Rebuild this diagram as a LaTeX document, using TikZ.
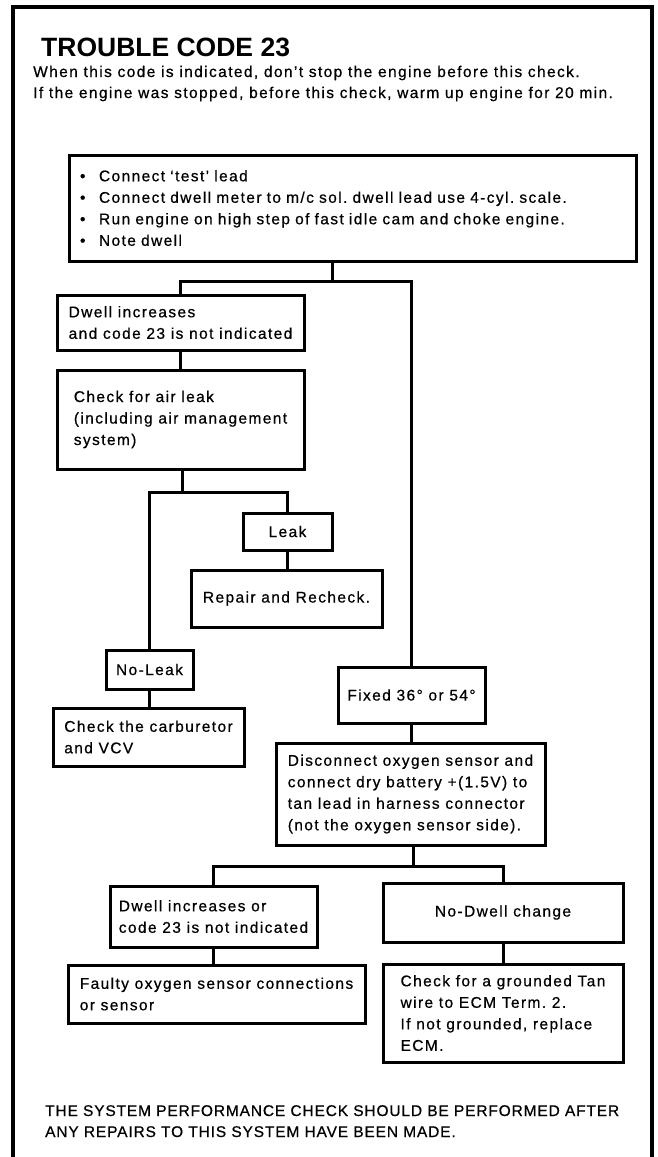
\documentclass[tikz,border=0pt]{standalone}
\usepackage{fontspec}
\setmainfont{Liberation Sans}[LetterSpace=9, FakeBold=0.6]
\newfontfamily\capsfont{Liberation Sans}[LetterSpace=5.5, FakeBold=0.6]
\newfontfamily\headfont{Liberation Sans Bold}
\frenchspacing

\begin{document}
\begin{tikzpicture}[x=1pt, y=-1pt,
        box/.style={draw, line width=3pt, inner sep=0pt, align=left, font=\fontsize{15.5}{21.5}\selectfont},
        cbox/.style={box, align=center},
        link/.style={line width=3pt},
        txt/.style={anchor=base west, inner sep=0pt, font=\fontsize{15.5}{21.5}\selectfont}]
        \useasboundingbox (0,0) rectangle (657,1157);

        % Frame
        \draw[line width=3.5pt] (13,1157) -- (13,7) -- (652,7) -- (652,1157);

        % Heading
        \node[anchor=base west, inner sep=0pt, font=\fontsize{26.5}{30}\headfont] (title) at (41,56) {TROUBLE CODE 23};
        \node[txt] (introa) at (33,77) {When this code is indicated, don’t stop the engine before this check.};
        \node[txt] (introb) at (33,98) {If the engine was stopped, before this check, warm up engine for 20 min.};

        % Boxes
        \node[box, minimum width=567, minimum height=106, text width=545] (checks) at (352.5,208) {\makebox[19pt][l]{\textbullet}Connect ‘test’ lead\\
            \makebox[19pt][l]{\textbullet}Connect dwell meter to m/c sol. dwell lead use 4-cyl. scale.\\
            \makebox[19pt][l]{\textbullet}Run engine on high step of fast idle cam and choke engine.\\
            \makebox[19pt][l]{\textbullet}Note dwell};
        \node[box, minimum width=247, minimum height=55] (dwell) at (180.5,322.5) {Dwell increases\\ and code 23 is not indicated};
        \node[box, minimum width=247, minimum height=99] (airleak) at (180.5,419.5) {Check for air leak\\ (including air management\\ system)};
        \node[cbox, minimum width=89, minimum height=37] (leak) at (287.5,531.5) {Leak};
        \node[cbox, minimum width=191, minimum height=57] (repair) at (286.5,598.5) {Repair and Recheck.};
        \node[cbox, minimum width=87, minimum height=39] (noleak) at (149.5,669.5) {No-Leak};
        \node[box, minimum width=191, minimum height=58] (carb) at (148.5,737) {Check the carburetor\\ and VCV};
        \node[cbox, minimum width=147, minimum height=56] (fixed) at (411.5,695) {Fixed 36° or 54°};
        \node[box, minimum width=269, minimum height=102] (battery) at (410.5,794) {Disconnect oxygen sensor and\\ connect dry battery +(1.5V) to\\ tan lead in harness connector\\ (not the oxygen sensor side).};
        \node[box, minimum width=207, minimum height=61] (dwellor) at (213.5,916.5) {Dwell increases or\\ code 23 is not indicated};
        \node[box, minimum width=297, minimum height=58] (faulty) at (216.5,994) {Faulty oxygen sensor connections\\ or sensor};
        \node[cbox, minimum width=240, minimum height=59] (nodwell) at (503,912.5) {No-Dwell change};
        \node[box, minimum width=240, minimum height=98] (ground) at (503,1013) {Check for a grounded Tan\\ wire to ECM Term. 2.\\ If not grounded, replace\\ ECM.};

        % Footer
        \node[txt, font=\fontsize{15.5}{21.5}\capsfont] (notea) at (45,1116) {THE SYSTEM PERFORMANCE CHECK SHOULD BE PERFORMED AFTER};
        \node[txt, font=\fontsize{15.5}{21.5}\capsfont] (noteb) at (45,1137) {ANY REPAIRS TO THIS SYSTEM HAVE BEEN MADE.};

        % Connections
        \coordinate (ja) at (332,281);
        \coordinate (jb) at (182,492);
        \coordinate (jc) at (413,866);
        \draw[link] (checks.south -| ja) -- (ja);
        \draw[link] (dwell.north) |- (ja) -| (fixed.north);
        \draw[link] (dwell.south) -- (airleak.north);
        \draw[link] (airleak.south -| jb) -- (jb);
        \draw[link] (noleak.north) |- (jb) -| (leak.north);
        \draw[link] (leak.south) -- (leak.south |- repair.north);
        \draw[link] (noleak.south) -- (noleak.south |- carb.north);
        \draw[link] (fixed.south) -- (fixed.south |- battery.north);
        \draw[link] (battery.south -| jc) -- (jc);
        \draw[link] (dwellor.north) |- (jc) -| (nodwell.north);
        \draw[link] (dwellor.south) -- (dwellor.south |- faulty.north);
        \draw[link] (nodwell.south) -- (ground.north);
\end{tikzpicture}
\end{document}
